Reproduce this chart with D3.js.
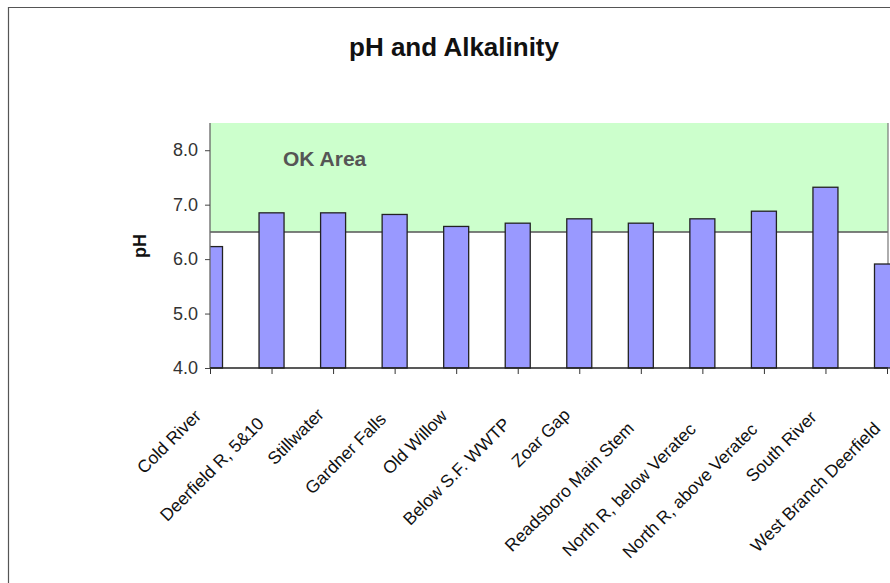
<!DOCTYPE html>
<html>
<head>
<meta charset="utf-8">
<script src="https://cdn.jsdelivr.net/npm/d3@7/dist/d3.min.js"></script>
<style>
  html, body { margin: 0; padding: 0; background: #fff; }
  svg { display: block; font-family: "Liberation Sans", Arial, sans-serif; }
</style>
</head>
<body>
<svg id="chart" width="890" height="583"></svg>
<script>
const categories = ["Cold River", "Deerfield R, 5&10", "Stillwater", "Gardner Falls", "Old Willow",
  "Below S.F. WWTP", "Zoar Gap", "Readsboro Main Stem", "North R, below Veratec",
  "North R, above Veratec", "South River", "West Branch Deerfield"];
const phValues = [6.23, 6.85, 6.85, 6.82, 6.60, 6.66, 6.74, 6.66, 6.74, 6.88, 7.32, 5.91];
const yTicks = [4, 5, 6, 7, 8];
const okRange = [6.5, 8.5];
const yDomain = [4, 8.5];

const svg = d3.select("#chart");
const W = 890, H = 583;
const plot = { left: 210, right: 888, top: 123, bottom: 368 };

// outer chart border
svg.append("path")
  .attr("d", `M8.5,${H + 2} V7.5 H${W + 2}`)
  .attr("fill", "none").attr("stroke", "#555").attr("stroke-width", 1.2);

// title
svg.append("text").attr("x", 454).attr("y", 56).attr("text-anchor", "middle")
  .attr("font-size", 26).attr("font-weight", "bold").attr("fill", "#111")
  .text("pH and Alkalinity");

const x = d3.scalePoint().domain(categories).range([plot.left, 887]);
const y = d3.scaleLinear().domain(yDomain).range([plot.bottom, plot.top]);

svg.append("defs").append("clipPath").attr("id", "plotclip")
  .append("rect").attr("x", plot.left).attr("y", 0).attr("width", W).attr("height", H);

// OK band
svg.append("rect")
  .attr("x", plot.left).attr("width", plot.right - plot.left)
  .attr("y", y(okRange[1])).attr("height", y(okRange[0]) - y(okRange[1]))
  .attr("fill", "#CCFFCC");
svg.append("line")
  .attr("x1", plot.left).attr("x2", plot.right)
  .attr("y1", y(okRange[0])).attr("y2", y(okRange[0]))
  .attr("stroke", "#555").attr("stroke-width", 1.5);
// plot right border
svg.append("line")
  .attr("x1", plot.right).attr("x2", plot.right)
  .attr("y1", y(okRange[1])).attr("y2", plot.bottom)
  .attr("stroke", "#777").attr("stroke-width", 1.2);

svg.append("text").attr("x", 283).attr("y", 166)
  .attr("font-size", 21).attr("font-weight", "bold").attr("fill", "#555")
  .text("OK Area");

// bars
const bw = 25;
svg.append("g").attr("clip-path", "url(#plotclip)")
  .selectAll("rect").data(categories).join("rect")
  .attr("x", d => x(d) - bw / 2)
  .attr("width", bw)
  .attr("y", (d, i) => y(phValues[i]))
  .attr("height", (d, i) => y(yDomain[0]) - y(phValues[i]))
  .attr("fill", "#9999FF").attr("stroke", "#222").attr("stroke-width", 1.3);

// y axis
const yAxis = svg.append("g").attr("transform", `translate(${plot.left},0)`)
  .call(d3.axisLeft(y).tickValues(yTicks).tickFormat(d3.format(".1f")).tickSize(5).tickPadding(7));
yAxis.select(".domain").attr("stroke", "#666").attr("stroke-width", 1.3)
  .attr("d", `M0,${y(okRange[1])}V${plot.bottom + 1}`);
yAxis.selectAll(".tick line").attr("stroke", "#444");
yAxis.selectAll(".tick text").attr("font-size", 18).attr("fill", "#333")
  .attr("font-family", "Liberation Sans, Arial, sans-serif");

// x axis
const xAxis = svg.append("g").attr("transform", `translate(0,${plot.bottom})`)
  .call(d3.axisBottom(x).tickSize(6).tickFormat(""));
xAxis.select(".domain").attr("stroke", "#222").attr("stroke-width", 1.3)
  .attr("d", `M${plot.left},0H${plot.right}`);
xAxis.selectAll(".tick line").attr("stroke", "#333");

// rotated category labels
const lbl = svg.append("g").selectAll("text").data(categories).join("text")
  .attr("font-size", 17.5).attr("fill", "#111").attr("text-anchor", "end")
  .text(d => d);
lbl.each(function(d) {
  const L = this.getComputedTextLength();
  const ex = x(d) - 10 + 0.025 * L;
  const ey = 406 + 0.135 * L;
  d3.select(this).attr("transform", `translate(${ex},${ey}) rotate(-45)`);
});

// y axis title
svg.append("text").attr("transform", "translate(146,246) rotate(-90)")
  .attr("text-anchor", "middle").attr("font-size", 18).attr("font-weight", "bold")
  .attr("fill", "#111").text("pH");
</script>
</body>
</html>
